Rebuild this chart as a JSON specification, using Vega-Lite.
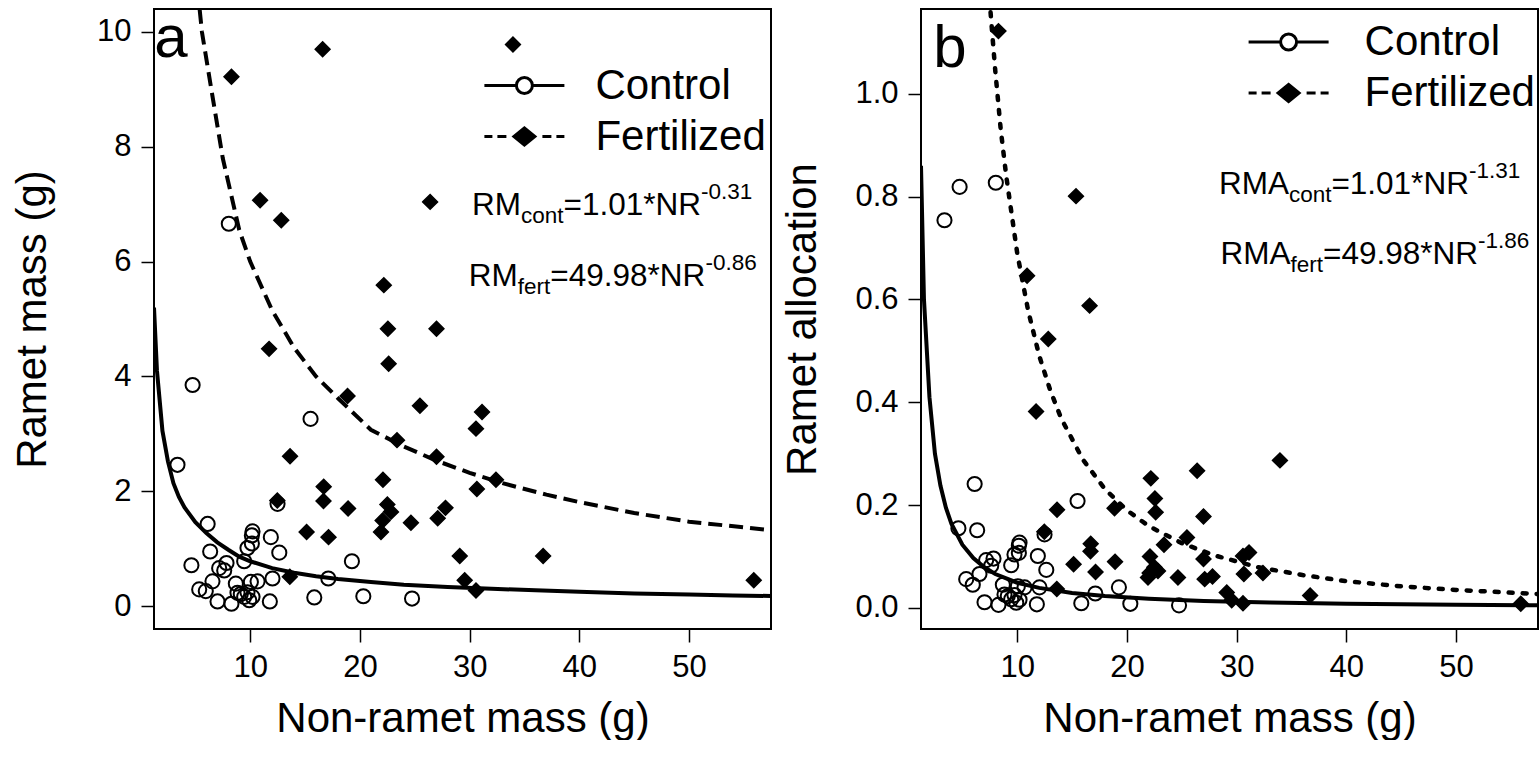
{
  "$schema": "https://vega.github.io/schema/vega-lite/v6.json",
  "background": "white",
  "padding": {"left": 10, "top": 7, "right": 0, "bottom": 0},
  "spacing": 150,
  "bounds": "flush",
  "config": {
    "font": "Liberation Sans",
    "view": {"stroke": "black", "strokeWidth": 2},
    "axis": {
      "domain": false, "grid": false, "tickColor": "black", "tickWidth": 1.5, "tickSize": 13,
      "labelColor": "black", "labelFontSize": 31, "labelPadding": 10, "labelFont": "Liberation Sans",
      "titleColor": "black", "titleFontSize": 42, "titleFontWeight": "normal", "titleFont": "Liberation Sans",
      "labelOverlap": false, "labelFlush": false
    },
    "legend": {
      "orient": "none", "title": null, "padding": 0, "labelFont": "Liberation Sans", "labelColor": "black",
      "labelLimit": 600, "symbolSize": 400, "symbolOffset": 20, "symbolStrokeColor": "black", "symbolStrokeWidth": 3,
      "labelFontSize": 42, "rowPadding": 9
    },
    "text": {"font": "Liberation Sans", "color": "black"}
  },
  "datasets": {
    "pts": [
      {"group":"Control","NR":3.37,"RM":2.46,"RMA":0.754},
      {"group":"Control","NR":4.75,"RM":3.85,"RMA":0.819},
      {"group":"Control","NR":8.05,"RM":6.66,"RMA":0.827},
      {"group":"Control","NR":15.5,"RM":3.26,"RMA":0.208},
      {"group":"Control","NR":6.12,"RM":1.43,"RMA":0.241},
      {"group":"Control","NR":6.35,"RM":0.95,"RMA":0.151},
      {"group":"Control","NR":4.64,"RM":0.71,"RMA":0.155},
      {"group":"Control","NR":7.17,"RM":0.66,"RMA":0.093},
      {"group":"Control","NR":7.63,"RM":0.62,"RMA":0.082},
      {"group":"Control","NR":7.84,"RM":0.75,"RMA":0.096},
      {"group":"Control","NR":6.56,"RM":0.43,"RMA":0.066},
      {"group":"Control","NR":5.35,"RM":0.29,"RMA":0.056},
      {"group":"Control","NR":5.95,"RM":0.26,"RMA":0.045},
      {"group":"Control","NR":7.02,"RM":0.08,"RMA":0.011},
      {"group":"Control","NR":8.29,"RM":0.04,"RMA":0.006},
      {"group":"Control","NR":8.69,"RM":0.39,"RMA":0.045},
      {"group":"Control","NR":8.84,"RM":0.23,"RMA":0.026},
      {"group":"Control","NR":9.14,"RM":0.21,"RMA":0.023},
      {"group":"Control","NR":9.45,"RM":0.16,"RMA":0.017},
      {"group":"Control","NR":9.75,"RM":0.24,"RMA":0.025},
      {"group":"Control","NR":9.91,"RM":0.10,"RMA":0.010},
      {"group":"Control","NR":10.21,"RM":0.16,"RMA":0.016},
      {"group":"Control","NR":10.06,"RM":0.42,"RMA":0.042},
      {"group":"Control","NR":10.67,"RM":0.43,"RMA":0.040},
      {"group":"Control","NR":9.45,"RM":0.78,"RMA":0.083},
      {"group":"Control","NR":9.75,"RM":1.01,"RMA":0.104},
      {"group":"Control","NR":10.15,"RM":1.09,"RMA":0.107},
      {"group":"Control","NR":10.15,"RM":1.23,"RMA":0.121},
      {"group":"Control","NR":10.21,"RM":1.30,"RMA":0.127},
      {"group":"Control","NR":11.88,"RM":1.20,"RMA":0.101},
      {"group":"Control","NR":12.65,"RM":0.93,"RMA":0.074},
      {"group":"Control","NR":12.03,"RM":0.48,"RMA":0.040},
      {"group":"Control","NR":11.79,"RM":0.08,"RMA":0.007},
      {"group":"Control","NR":12.49,"RM":1.78,"RMA":0.143},
      {"group":"Control","NR":15.84,"RM":0.15,"RMA":0.009},
      {"group":"Control","NR":17.12,"RM":0.48,"RMA":0.028},
      {"group":"Control","NR":19.27,"RM":0.78,"RMA":0.040},
      {"group":"Control","NR":20.31,"RM":0.17,"RMA":0.008},
      {"group":"Control","NR":24.75,"RM":0.13,"RMA":0.005},
      {"group":"Fertilized","NR":8.29,"RM":9.22,"RMA":1.122},
      {"group":"Fertilized","NR":16.6,"RM":9.70,"RMA":0.588},
      {"group":"Fertilized","NR":33.95,"RM":9.78,"RMA":0.287},
      {"group":"Fertilized","NR":10.9,"RM":7.07,"RMA":0.646},
      {"group":"Fertilized","NR":12.83,"RM":6.72,"RMA":0.523},
      {"group":"Fertilized","NR":26.4,"RM":7.04,"RMA":0.267},
      {"group":"Fertilized","NR":22.18,"RM":5.59,"RMA":0.252},
      {"group":"Fertilized","NR":22.55,"RM":4.83,"RMA":0.213},
      {"group":"Fertilized","NR":26.98,"RM":4.83,"RMA":0.178},
      {"group":"Fertilized","NR":22.62,"RM":4.22,"RMA":0.186},
      {"group":"Fertilized","NR":11.72,"RM":4.48,"RMA":0.382},
      {"group":"Fertilized","NR":18.87,"RM":3.66,"RMA":0.194},
      {"group":"Fertilized","NR":25.47,"RM":3.49,"RMA":0.137},
      {"group":"Fertilized","NR":31.13,"RM":3.38,"RMA":0.108},
      {"group":"Fertilized","NR":30.58,"RM":3.09,"RMA":0.101},
      {"group":"Fertilized","NR":23.38,"RM":2.89,"RMA":0.123},
      {"group":"Fertilized","NR":13.63,"RM":2.61,"RMA":0.191},
      {"group":"Fertilized","NR":26.98,"RM":2.60,"RMA":0.095},
      {"group":"Fertilized","NR":32.4,"RM":2.20,"RMA":0.068},
      {"group":"Fertilized","NR":22.1,"RM":2.20,"RMA":0.100},
      {"group":"Fertilized","NR":16.7,"RM":2.08,"RMA":0.125},
      {"group":"Fertilized","NR":30.66,"RM":2.04,"RMA":0.066},
      {"group":"Fertilized","NR":12.47,"RM":1.84,"RMA":0.148},
      {"group":"Fertilized","NR":16.68,"RM":1.83,"RMA":0.110},
      {"group":"Fertilized","NR":18.92,"RM":1.70,"RMA":0.090},
      {"group":"Fertilized","NR":22.5,"RM":1.77,"RMA":0.079},
      {"group":"Fertilized","NR":22.83,"RM":1.64,"RMA":0.072},
      {"group":"Fertilized","NR":27.8,"RM":1.71,"RMA":0.061},
      {"group":"Fertilized","NR":15.14,"RM":1.29,"RMA":0.085},
      {"group":"Fertilized","NR":17.14,"RM":1.20,"RMA":0.070},
      {"group":"Fertilized","NR":22.07,"RM":1.49,"RMA":0.068},
      {"group":"Fertilized","NR":21.92,"RM":1.29,"RMA":0.059},
      {"group":"Fertilized","NR":24.65,"RM":1.45,"RMA":0.059},
      {"group":"Fertilized","NR":27.09,"RM":1.53,"RMA":0.056},
      {"group":"Fertilized","NR":13.61,"RM":0.51,"RMA":0.037},
      {"group":"Fertilized","NR":29.1,"RM":0.87,"RMA":0.030},
      {"group":"Fertilized","NR":36.7,"RM":0.87,"RMA":0.024},
      {"group":"Fertilized","NR":29.55,"RM":0.45,"RMA":0.015},
      {"group":"Fertilized","NR":30.58,"RM":0.27,"RMA":0.009},
      {"group":"Fertilized","NR":55.9,"RM":0.45,"RMA":0.008},
      {"group":"Fertilized","NR":15.36,"RM":12.3,"RMA":0.801}
    ],
    "fitA": [
      {"curve":"Control","NR":1.23,"RM":5.2},{"curve":"Control","NR":1.5,"RM":4.1},
      {"curve":"Control","NR":2.0,"RM":3.05},{"curve":"Control","NR":2.5,"RM":2.52},{"curve":"Control","NR":3.0,"RM":2.14},
      {"curve":"Control","NR":3.5,"RM":1.9},{"curve":"Control","NR":4.0,"RM":1.72},{"curve":"Control","NR":5.0,"RM":1.46},
      {"curve":"Control","NR":6.0,"RM":1.27},{"curve":"Control","NR":7.0,"RM":1.11},{"curve":"Control","NR":8.0,"RM":0.98},
      {"curve":"Control","NR":9.0,"RM":0.86},{"curve":"Control","NR":10.0,"RM":0.78},{"curve":"Control","NR":12.0,"RM":0.66},
      {"curve":"Control","NR":14.0,"RM":0.58},{"curve":"Control","NR":16.0,"RM":0.52},{"curve":"Control","NR":18.0,"RM":0.47},
      {"curve":"Control","NR":21.0,"RM":0.42},{"curve":"Control","NR":24.0,"RM":0.37},{"curve":"Control","NR":28.0,"RM":0.33},
      {"curve":"Control","NR":32.0,"RM":0.30},{"curve":"Control","NR":36.0,"RM":0.275},{"curve":"Control","NR":40.0,"RM":0.25},
      {"curve":"Control","NR":45.0,"RM":0.22},{"curve":"Control","NR":50.0,"RM":0.20},{"curve":"Control","NR":54.0,"RM":0.185},
      {"curve":"Control","NR":57.47,"RM":0.175},
      {"curve":"Fertilized","NR":5.2,"RM":10.75},{"curve":"Fertilized","NR":5.6,"RM":10.0},{"curve":"Fertilized","NR":6.5,"RM":8.95},
      {"curve":"Fertilized","NR":7.5,"RM":7.8},{"curve":"Fertilized","NR":9.0,"RM":6.55},{"curve":"Fertilized","NR":10.0,"RM":6.0},
      {"curve":"Fertilized","NR":12.0,"RM":5.15},{"curve":"Fertilized","NR":14.0,"RM":4.5},{"curve":"Fertilized","NR":16.0,"RM":4.0},
      {"curve":"Fertilized","NR":18.0,"RM":3.62},{"curve":"Fertilized","NR":21.0,"RM":3.07},{"curve":"Fertilized","NR":24.0,"RM":2.78},
      {"curve":"Fertilized","NR":27.0,"RM":2.53},{"curve":"Fertilized","NR":30.0,"RM":2.32},{"curve":"Fertilized","NR":33.0,"RM":2.14},
      {"curve":"Fertilized","NR":37.0,"RM":1.94},{"curve":"Fertilized","NR":40.0,"RM":1.81},{"curve":"Fertilized","NR":45.0,"RM":1.62},
      {"curve":"Fertilized","NR":50.0,"RM":1.47},{"curve":"Fertilized","NR":55.0,"RM":1.37},{"curve":"Fertilized","NR":57.47,"RM":1.32}
    ],
    "fitB": [
      {"curve":"Control","NR":1.23,"RMA":0.86},{"curve":"Control","NR":1.5,"RMA":0.6},
      {"curve":"Control","NR":2.0,"RMA":0.41},{"curve":"Control","NR":2.5,"RMA":0.30},{"curve":"Control","NR":3.0,"RMA":0.238},
      {"curve":"Control","NR":3.5,"RMA":0.195},{"curve":"Control","NR":4.0,"RMA":0.164},{"curve":"Control","NR":5.0,"RMA":0.123},
      {"curve":"Control","NR":6.0,"RMA":0.097},{"curve":"Control","NR":7.0,"RMA":0.079},{"curve":"Control","NR":8.0,"RMA":0.066},
      {"curve":"Control","NR":10.0,"RMA":0.049},{"curve":"Control","NR":12.0,"RMA":0.039},{"curve":"Control","NR":15.0,"RMA":0.029},
      {"curve":"Control","NR":18.0,"RMA":0.023},{"curve":"Control","NR":22.0,"RMA":0.018},{"curve":"Control","NR":27.0,"RMA":0.0135},
      {"curve":"Control","NR":33.0,"RMA":0.0105},{"curve":"Control","NR":40.0,"RMA":0.008},{"curve":"Control","NR":50.0,"RMA":0.0061},
      {"curve":"Control","NR":57.47,"RMA":0.005},
      {"curve":"Fertilized","NR":7.3,"RMA":1.24},{"curve":"Fertilized","NR":7.6,"RMA":1.15},{"curve":"Fertilized","NR":8.0,"RMA":1.045},
      {"curve":"Fertilized","NR":8.5,"RMA":0.93},{"curve":"Fertilized","NR":9.0,"RMA":0.84},{"curve":"Fertilized","NR":10.0,"RMA":0.69},
      {"curve":"Fertilized","NR":11.0,"RMA":0.578},{"curve":"Fertilized","NR":12.0,"RMA":0.491},{"curve":"Fertilized","NR":13.0,"RMA":0.424},
      {"curve":"Fertilized","NR":14.0,"RMA":0.369},{"curve":"Fertilized","NR":16.0,"RMA":0.288},{"curve":"Fertilized","NR":18.0,"RMA":0.231},
      {"curve":"Fertilized","NR":20.0,"RMA":0.19},{"curve":"Fertilized","NR":22.0,"RMA":0.159},{"curve":"Fertilized","NR":25.0,"RMA":0.126},
      {"curve":"Fertilized","NR":28.0,"RMA":0.102},{"curve":"Fertilized","NR":32.0,"RMA":0.079},{"curve":"Fertilized","NR":36.0,"RMA":0.064},
      {"curve":"Fertilized","NR":40.0,"RMA":0.052},{"curve":"Fertilized","NR":45.0,"RMA":0.042},{"curve":"Fertilized","NR":50.0,"RMA":0.035},
      {"curve":"Fertilized","NR":57.47,"RMA":0.027}
    ],
    "annA": [
      {"piece":"letter","text":"a","NR":1.26,"RM":9.564},
      {"piece":"main","text":"RM","NR":30.21,"RM":6.811},
      {"piece":"small","text":"cont","NR":34.68,"RM":6.672},
      {"piece":"main","text":"=1.01*NR","NR":38.56,"RM":6.811},
      {"piece":"small","text":"-0.31","NR":51.09,"RM":7.09},
      {"piece":"main","text":"RM","NR":29.92,"RM":5.575},
      {"piece":"small","text":"fert","NR":34.39,"RM":5.435},
      {"piece":"main","text":"=49.98*NR","NR":37.35,"RM":5.575},
      {"piece":"small","text":"-0.86","NR":51.5,"RM":5.853}
    ],
    "annB": [
      {"piece":"letter","text":"b","NR":2.34,"RMA":1.0522},
      {"piece":"main","text":"RMA","NR":28.39,"RMA":0.805},
      {"piece":"small","text":"cont","NR":34.77,"RMA":0.7896},
      {"piece":"main","text":"=1.01*NR","NR":38.64,"RMA":0.805},
      {"piece":"small","text":"-1.31","NR":51.17,"RMA":0.836},
      {"piece":"main","text":"RMA","NR":28.54,"RMA":0.669},
      {"piece":"small","text":"fert","NR":34.92,"RMA":0.6534},
      {"piece":"main","text":"=49.98*NR","NR":37.88,"RMA":0.669},
      {"piece":"small","text":"-1.86","NR":52.01,"RMA":0.7}
    ]
  },
  "resolve": {
    "scale": {"shape": "independent"},
    "legend": {"shape": "independent"}
  },
  "hconcat": [
    {
      "width": 617,
      "height": 620,
      "encoding": {
        "x": {"field": "NR", "type": "quantitative",
          "scale": {"domain": [1.23, 57.47], "nice": false, "zero": false},
          "axis": {"values": [10, 20, 30, 40, 50], "title": "Non-ramet mass (g)", "titleX": 308.5, "titleY": 102, "titleAlign": "center", "titleBaseline": "alphabetic"}},
        "y": {"field": "RM", "type": "quantitative",
          "scale": {"domain": [-0.4, 10.4], "nice": false, "zero": false},
          "axis": {"values": [0, 2, 4, 6, 8, 10], "title": "Ramet mass (g)", "titleX": -108.6, "titleY": 310, "titleAngle": 270, "titleAlign": "center", "titleBaseline": "alphabetic"}}
      },
      "layer": [
        {
          "data": {"name": "pts"},
          "transform": [{"filter": "datum.NR < 0"}],
          "mark": {"type": "point", "stroke": "black", "strokeWidth": 3, "fill": "white", "opacity": 1, "size": 400},
          "encoding": {
            "shape": {"field": "group", "type": "nominal",
              "scale": {"domain": ["Control", "Fertilized"], "range": [
                "M-4,0H-0.8M0.8,0H4M-0.8,0A0.8,0.8,0,1,1,0.8,0A0.8,0.8,0,1,1,-0.8,0Z",
                "M-4,0H-3.2M-2.7,0H-1.8M1.8,0H2.7M3.2,0H4M0,-0.85L1.05,0L0,0.85L-1.05,0Z"]},
              "legend": {
                "legendX": 329.4, "legendY": 55.5, "labelOffset": 50,
                "encoding": {"symbols": {
                  "fill": {"condition": {"test": "datum.value === 'Control'", "value": "white"}, "value": "black"},
                  "stroke": {"value": "black"},
                  "strokeWidth": {"value": 3},
                  "size": {"value": 400},
                  "opacity": {"value": 1}
                }}
              }}
          }
        },
        {
          "data": {"name": "pts"},
          "transform": [{"filter": "datum.group === 'Control'"}],
          "mark": {"type": "point", "shape": "circle", "stroke": "black", "strokeWidth": 2, "fill": "transparent", "opacity": 1, "size": 200, "clip": true},
          "encoding": {}
        },
        {
          "data": {"name": "pts"},
          "transform": [{"filter": "datum.group === 'Fertilized'"}],
          "mark": {"type": "point", "shape": "diamond", "stroke": "black", "strokeWidth": 1.5, "fill": "black", "filled": true, "opacity": 1, "size": 220, "clip": true},
          "encoding": {}
        },
        {
          "data": {"name": "fitA"},
          "transform": [{"filter": "datum.curve === 'Control'"}],
          "mark": {"type": "line", "color": "black", "strokeWidth": 4, "clip": true},
          "encoding": {}
        },
        {
          "data": {"name": "fitA"},
          "transform": [{"filter": "datum.curve === 'Fertilized'"}],
          "mark": {"type": "line", "color": "black", "strokeWidth": 4, "strokeDash": [14, 7], "clip": true},
          "encoding": {}
        },
        {
          "data": {"name": "annA"},
          "transform": [{"filter": "datum.piece === 'main'"}],
          "mark": {"type": "text", "align": "left", "baseline": "alphabetic", "fontSize": 31.5, "color": "black"},
          "encoding": {"text": {"field": "text"}}
        },
        {
          "data": {"name": "annA"},
          "transform": [{"filter": "datum.piece === 'small'"}],
          "mark": {"type": "text", "align": "left", "baseline": "alphabetic", "fontSize": 22.5, "color": "black"},
          "encoding": {"text": {"field": "text"}}
        },
        {
          "data": {"name": "annA"},
          "transform": [{"filter": "datum.piece === 'letter'"}],
          "mark": {"type": "text", "align": "left", "baseline": "alphabetic", "fontSize": 60, "color": "black"},
          "encoding": {"text": {"field": "text"}}
        }
      ]
    },
    {
      "width": 617,
      "height": 620,
      "encoding": {
        "x": {"field": "NR", "type": "quantitative",
          "scale": {"domain": [1.23, 57.47], "nice": false, "zero": false},
          "axis": {"values": [10, 20, 30, 40, 50], "title": "Non-ramet mass (g)", "titleX": 308.5, "titleY": 102, "titleAlign": "center", "titleBaseline": "alphabetic"}},
        "y": {"field": "RMA", "type": "quantitative",
          "scale": {"domain": [-0.041, 1.165], "nice": false, "zero": false},
          "axis": {"values": [0, 0.2, 0.4, 0.6, 0.8, 1.0], "format": ".1f", "title": "Ramet allocation", "titleX": -106, "titleY": 310, "titleAngle": 270, "titleAlign": "center", "titleBaseline": "alphabetic"}}
      },
      "layer": [
        {
          "data": {"name": "pts"},
          "transform": [{"filter": "datum.NR < 0"}],
          "mark": {"type": "point", "stroke": "black", "strokeWidth": 3, "fill": "white", "opacity": 1, "size": 400},
          "encoding": {
            "shape": {"field": "group", "type": "nominal",
              "scale": {"domain": ["Control", "Fertilized"], "range": [
                "M-4,0H-0.8M0.8,0H4M-0.8,0A0.8,0.8,0,1,1,0.8,0A0.8,0.8,0,1,1,-0.8,0Z",
                "M-4,0H-3.2M-2.7,0H-1.8M1.8,0H2.7M3.2,0H4M0,-0.85L1.05,0L0,0.85L-1.05,0Z"]},
              "legend": {
                "legendX": 326.6, "legendY": 12, "labelOffset": 55,
                "encoding": {"symbols": {
                  "fill": {"condition": {"test": "datum.value === 'Control'", "value": "white"}, "value": "black"},
                  "stroke": {"value": "black"},
                  "strokeWidth": {"value": 3},
                  "size": {"value": 400},
                  "opacity": {"value": 1}
                }}
              }}
          }
        },
        {
          "data": {"name": "pts"},
          "transform": [{"filter": "datum.group === 'Control'"}],
          "mark": {"type": "point", "shape": "circle", "stroke": "black", "strokeWidth": 2, "fill": "transparent", "opacity": 1, "size": 200, "clip": true},
          "encoding": {}
        },
        {
          "data": {"name": "pts"},
          "transform": [{"filter": "datum.group === 'Fertilized'"}],
          "mark": {"type": "point", "shape": "diamond", "stroke": "black", "strokeWidth": 1.5, "fill": "black", "filled": true, "opacity": 1, "size": 220, "clip": true},
          "encoding": {}
        },
        {
          "data": {"name": "fitB"},
          "transform": [{"filter": "datum.curve === 'Control'"}],
          "mark": {"type": "line", "color": "black", "strokeWidth": 4, "clip": true},
          "encoding": {}
        },
        {
          "data": {"name": "fitB"},
          "transform": [{"filter": "datum.curve === 'Fertilized'"}],
          "mark": {"type": "line", "color": "black", "strokeWidth": 4.5, "strokeDash": [4, 10], "strokeCap": "round", "clip": true},
          "encoding": {}
        },
        {
          "data": {"name": "annB"},
          "transform": [{"filter": "datum.piece === 'main'"}],
          "mark": {"type": "text", "align": "left", "baseline": "alphabetic", "fontSize": 31.5, "color": "black"},
          "encoding": {"text": {"field": "text"}}
        },
        {
          "data": {"name": "annB"},
          "transform": [{"filter": "datum.piece === 'small'"}],
          "mark": {"type": "text", "align": "left", "baseline": "alphabetic", "fontSize": 22.5, "color": "black"},
          "encoding": {"text": {"field": "text"}}
        },
        {
          "data": {"name": "annB"},
          "transform": [{"filter": "datum.piece === 'letter'"}],
          "mark": {"type": "text", "align": "left", "baseline": "alphabetic", "fontSize": 60, "color": "black"},
          "encoding": {"text": {"field": "text"}}
        }
      ]
    }
  ]
}
